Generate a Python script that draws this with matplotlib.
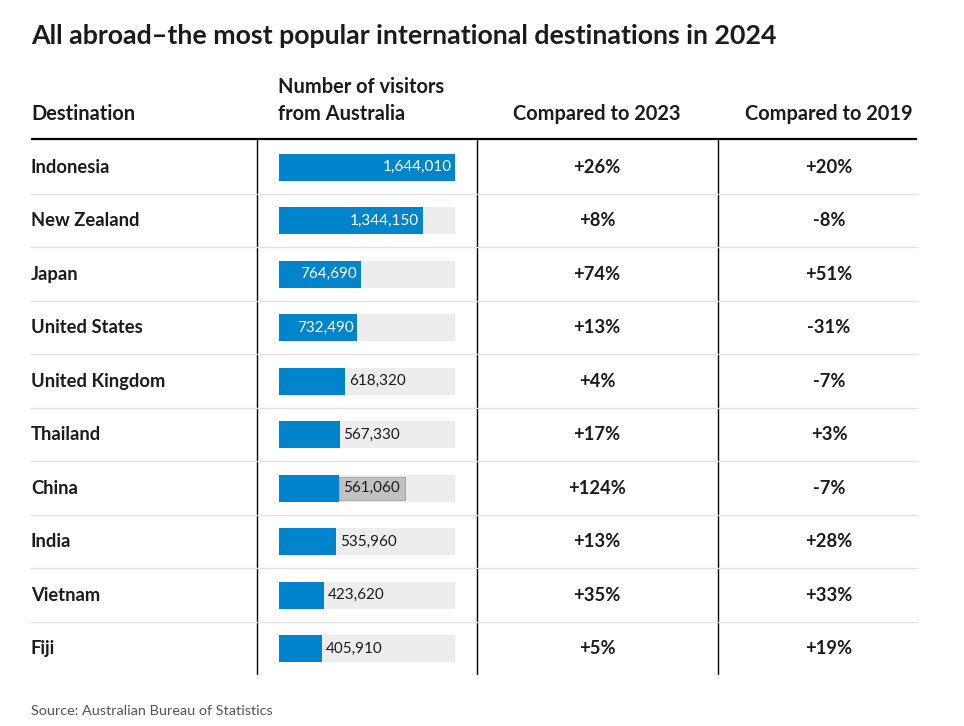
import numpy as np
import matplotlib
matplotlib.use("Agg")
from matplotlib import pyplot as plt

destinations = ["Indonesia", "New Zealand", "Japan", "United States", "United Kingdom",
                "Thailand", "China", "India", "Vietnam", "Fiji"]
visitors = [1644010, 1344150, 764690, 732490, 618320, 567330, 561060, 535960, 423620, 405910]
vs_2023 = ["+26%", "+8%", "+74%", "+13%", "+4%", "+17%", "+124%", "+13%", "+35%", "+5%"]
vs_2019 = ["+20%", "-8%", "+51%", "-31%", "-7%", "+3%", "-7%", "+28%", "+33%", "+19%"]

title = "All abroad\u2013the most popular international destinations in 2024"
source = "Source: Australian Bureau of Statistics"

plt.rcParams['font.family'] = ['Lato', 'DejaVu Sans']
W, H = 964, 726
fig = plt.figure(figsize=(W / 100, H / 100), dpi=100)
fig.patch.set_facecolor("white")

# table frame in pixel coordinates
ax = fig.add_axes([0, 0, 1, 1])
ax.set_xlim(0, W)
ax.set_ylim(H, 0)
ax.axis("off")

dark = "#1b1b1b"
row_top = 140.5
row_h = 53.5
n = len(destinations)
table_bottom = row_top + n * row_h - 2

ax.text(31, 36.5, title, fontsize=19.3, fontweight="bold", color=dark, va="center", ha="left")
hfs = 14.4
ax.text(31, 114, "Destination", fontsize=hfs, fontweight="bold", color=dark, va="center")
ax.text(278, 87, "Number of visitors", fontsize=hfs, fontweight="bold", color=dark, va="center")
ax.text(278, 114, "from Australia", fontsize=hfs, fontweight="bold", color=dark, va="center")
ax.text(597, 114, "Compared to 2023", fontsize=hfs, fontweight="bold", color=dark, va="center", ha="center")
ax.text(829, 114, "Compared to 2019", fontsize=hfs, fontweight="bold", color=dark, va="center", ha="center")

ax.plot([31, 917], [138.5, 138.5], color="black", lw=1.6, solid_capstyle="butt")
for xv in [256.5, 477, 717.5]:
    ax.plot([xv, xv], [138.5, table_bottom], color="black", lw=1.0)
for i in range(1, n):
    yy = row_top + i * row_h - 0.5
    ax.plot([31, 917], [yy, yy], color="#e2e2e2", lw=1.0)

for i, name in enumerate(destinations):
    yc = row_top + (i + 0.5) * row_h
    ax.text(31, yc, name, fontsize=13.2, fontweight="bold", color=dark, va="center")
    ax.text(597, yc, vs_2023[i], fontsize=13.2, fontweight="bold", color=dark, va="center", ha="center")
    ax.text(829, yc, vs_2019[i], fontsize=13.2, fontweight="bold", color=dark, va="center", ha="center")

ax.text(31, 711, source, fontsize=10.4, color="#555555", va="center")

# bar column
bx0, bx1 = 279, 455
bax = fig.add_axes([bx0 / W, 1 - (row_top + n * row_h) / H, (bx1 - bx0) / W, n * row_h / H])
vmax = max(visitors)
ypos = np.arange(n)
bax.set_xlim(0, vmax)
bax.set_ylim(n - 0.5, -0.5)
bax.axis("off")
bax.barh(ypos, [vmax] * n, height=0.51, color="#ededed")
bax.barh(ypos, visitors, height=0.51, color="#0084cc")
for i, v in enumerate(visitors):
    lab = f"{v:,}"
    if v > 700000:
        bax.text(v - vmax * 0.02, i, lab, color="white", fontsize=11, va="center", ha="right")
    elif destinations[i] == "China":
        bax.text(v + vmax * 0.025, i, lab, color=dark, fontsize=11, va="center", ha="left",
                 bbox=dict(boxstyle="square,pad=0.3", facecolor="#c2c2c2", edgecolor="#aaaaaa", lw=0.8))
    else:
        bax.text(v + vmax * 0.02, i, lab, color=dark, fontsize=11, va="center", ha="left")

fig.savefig("out.png", dpi=100, facecolor="white")
